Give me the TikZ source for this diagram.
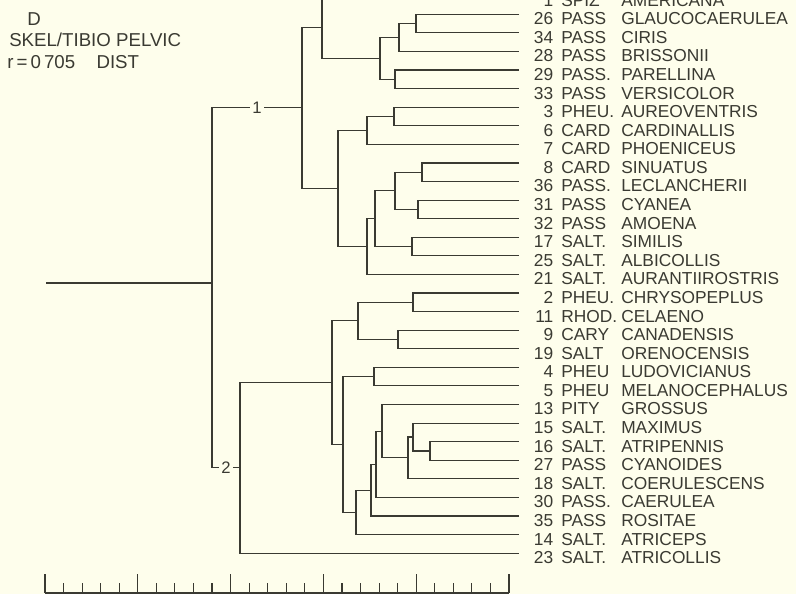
\documentclass[tikz,border=0pt]{standalone}
\usepackage{fontspec}
\usepackage{tikz}
\usetikzlibrary{calc, positioning}
\newfontfamily\lettering{Liberation Sans}
\definecolor{paper}{RGB}{254,254,236}
\definecolor{ink}{RGB}{58,58,50}

\begin{document}
\begin{tikzpicture}[
    x=0.75pt, y=-0.75pt,
    branch/.style={draw=ink, line width=0.85pt},
    leaftext/.style={anchor=west, inner sep=0pt, text=ink, font=\lettering\fontsize{13}{13}\selectfont},
    header/.style={anchor=west, inner sep=0pt, text=ink, font=\lettering\fontsize{14}{14}\selectfont},
    tag/.style={fill=paper, inner sep=2pt, text=ink, font=\lettering\fontsize{12.5}{12.5}\selectfont}
]
\useasboundingbox (0,0) rectangle (796,594);
\clip (0,0) rectangle (796,594);
\fill[paper] (0,0) rectangle (796,594);

% heading
\node[header] (panel) at (27,19) {D};
\node[header] (measure) at (9,40) {SKEL/TIBIO PELVIC};
\node[header] (corr) at (7,62) {r\,=\,0\,705\hspace{16pt}DIST};

% leaves
\foreach \n/\g/\s [count=\i] in {1/SPIZ/AMERICANA, 26/PASS/GLAUCOCAERULEA, 34/PASS/CIRIS,
    28/PASS/BRISSONII, 29/PASS./PARELLINA, 33/PASS/VERSICOLOR, 3/PHEU./AUREOVENTRIS,
    6/CARD/CARDINALLIS, 7/CARD/PHOENICEUS, 8/CARD/SINUATUS, 36/PASS./LECLANCHERII,
    31/PASS/CYANEA, 32/PASS/AMOENA, 17/SALT./SIMILIS, 25/SALT./ALBICOLLIS,
    21/SALT./AURANTIIROSTRIS, 2/PHEU./CHRYSOPEPLUS, 11/RHOD./CELAENO, 9/CARY/CANADENSIS,
    19/SALT/ORENOCENSIS, 4/PHEU/LUDOVICIANUS, 5/PHEU/MELANOCEPHALUS, 13/PITY/GROSSUS,
    15/SALT./MAXIMUS, 16/SALT./ATRIPENNIS, 27/PASS/CYANOIDES, 18/SALT./COERULESCENS,
    30/PASS./CAERULEA, 35/PASS/ROSITAE, 14/SALT./ATRICEPS, 23/SALT./ATRICOLLIS} {
  \coordinate (l\i) at (519, {14.3+(\i-2)*18.58});
  \node[leaftext] (t\i) at ([shift={(10,4.5)}]l\i) {\makebox[18pt][r]{\n}\hspace{6pt}\makebox[45pt][l]{\g}\s};
}

% clusters, children first
\foreach \j/\jx/\a/\b in {glc/416/l2/l3, brs/399/glc/l4, ver/395/l5/l6, pas/380/brs/ver,
    spz/322/l1/pas, aur/394/l7/l8, card/367/aur/l9, sin/422/l10/l11, cya/418/l12/l13,
    blue/395/sin/cya, sim/412/l14/l15, salt/375/blue/sim, aura/367/salt/l16,
    core/338/card/aura, one/302/spz/core,
    chr/413/l17/l18, can/398/l19/l20, cary/358/chr/can, lud/374/l21/l22,
    atrp/430/l25/l26, max/413/l24/atrp, coer/408/max/l27, gros/382/l23/coer,
    caer/376/gros/l28, ros/371/caer/l29, atrc/356/ros/l30, pheu/343/lud/atrc,
    low/332/cary/pheu, two/240/low/l31} {
  \coordinate (m\j) at ($(\a)!.5!(\b)$);
  \coordinate (\j) at (\jx,0 |- m\j);
  \draw[branch] (\a) -| (\j) |- (\b);
}

\coordinate (root) at (212,283);
\coordinate (stem) at (46,283);
\draw[branch] (stem) -- (root);
\draw[branch] (root) |- node[tag, pos=.75] (k1) {1} (one);
\draw[branch] (root) |- node[tag, pos=.75] (k2) {2} (two);

% scale
\draw[branch] (45,593) -- (509,593);
\foreach \k in {0,...,25} {
  \pgfmathsetmacro\tick{mod(\k,5)==0 ? 19 : 10}
  \draw[branch] ({45+\k*18.56},593) -- ++(0,-\tick);
}

\end{tikzpicture}
\end{document}
